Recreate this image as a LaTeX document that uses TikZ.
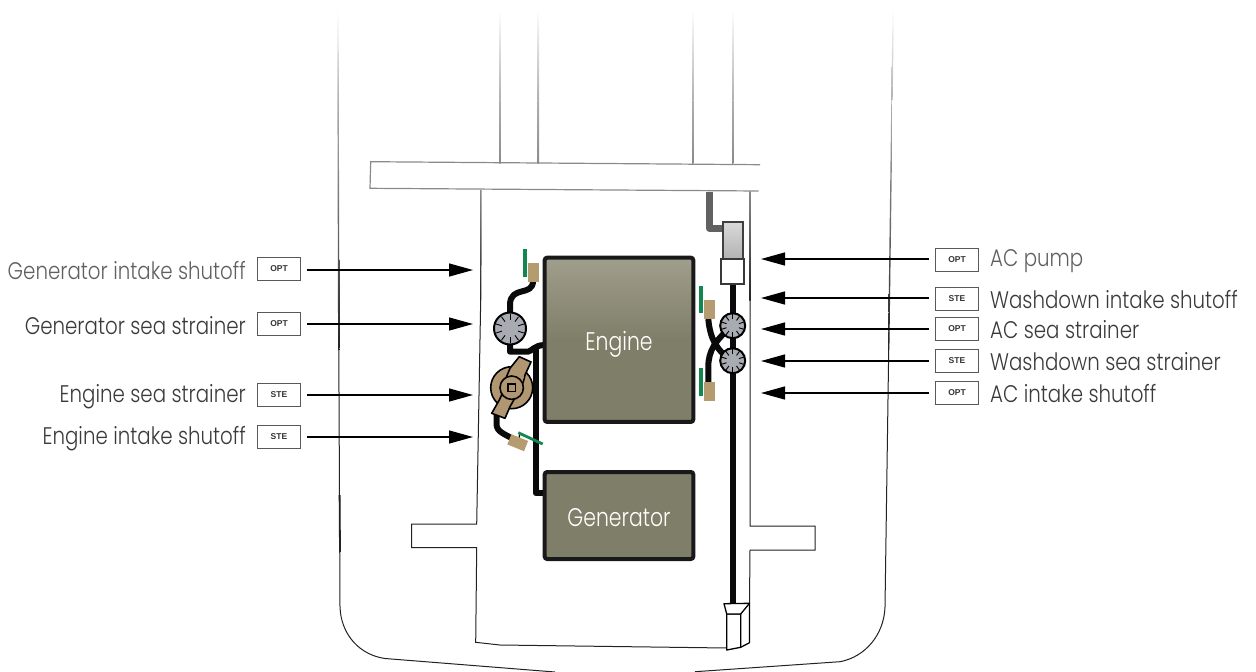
\documentclass[tikz,border=0pt]{standalone}
\usepackage{fontspec}
\setmainfont{Poppins}[UprightFont=* Light,FakeStretch=0.825]
\newfontfamily\bigfont{Poppins}[UprightFont=* Light,FakeStretch=0.80]
\newfontfamily\tagfont{Liberation Sans}
\usetikzlibrary{arrows.meta,calc}
\definecolor{hull}{HTML}{222222}
\definecolor{deck}{HTML}{8A8A8A}
\definecolor{fadeg}{HTML}{B0B0B0}
\definecolor{pipe}{HTML}{0A0A0A}
\definecolor{valve}{HTML}{B59B70}
\definecolor{handle}{HTML}{12874F}
\definecolor{strain}{HTML}{A9ABB3}
\definecolor{pump}{HTML}{B19672}
\definecolor{engb}{HTML}{7F7E68}
\definecolor{engt}{HTML}{A09E8C}
\definecolor{labelc}{HTML}{3A3A3A}
\definecolor{labell}{HTML}{606060}
\tikzset{
 hullline/.style={draw=hull,line width=1pt},
 deckline/.style={draw=deck,line width=1.2pt},
 pipeline/.style={draw=pipe,line width=6pt,line join=round},
 tagbox/.style={draw=black!65,line width=.9pt,fill=white,minimum width=43pt,minimum height=23pt,inner sep=0pt,font=\tagfont\fontsize{8.5}{8.5}\selectfont\bfseries,text=black!80},
 lab/.style={font=\fontsize{24}{24}\selectfont,text=labelc,inner sep=0pt},
 arrowl/.style={draw=black,line width=1.3pt,-{Triangle[length=24pt,width=13pt]}},
 engbox/.style={draw=black!90,line width=4pt,rounded corners=2.5pt},
 enginetext/.style={font=\bigfont\fontsize{25.5}{25.5}\selectfont,text=white,inner sep=0pt,text height=21pt,text depth=0pt},
 valvebox/.style={fill=valve,inner sep=0pt,minimum width=11pt,minimum height=19pt},
 handlebar/.style={draw=handle,line width=3.8pt},
 strainer/.style={circle,draw=black,line width=2pt,fill=strain,minimum size=25pt,inner sep=0pt},
 pumpline/.style={draw=black,line width=1.6pt,fill=pump,line join=round}
}
\newcommand{\ticks}[3]{\foreach \a in {90,126,...,414}{\draw[black,line width=.9pt] ($(#1)+(\a:#2)$) -- ($(#1)+(\a:#3)$);}}
% a thin line that fades from one colour to another, top to bottom
\newcommand{\fadeline}[6]{\shade[top color=#5,bottom color=#6] (#1-.7,#2) -- (#1+.7,#2) -- (#3+.7,#4) -- (#3-.7,#4) -- cycle;}
\begin{document}
\begin{tikzpicture}[x=1pt,y=-1pt]
\useasboundingbox (0,0) rectangle (1256,672);
% hull
\fadeline{338}{10}{338.1}{100}{white}{fadeg}
\fadeline{338.1}{100}{338.8}{350}{fadeg}{hull}
\draw[hullline] (338.8,350) -- (340,607) .. controls (341,635) and (360,655) .. (385,658.5) -- (555,672);
\draw[line width=1.8pt,hull] (339.6,495) -- (340,552);
\fadeline{893.2}{10}{892}{100}{white}{fadeg}
\fadeline{892}{100}{888.7}{350}{fadeg}{hull}
\draw[hullline] (888.7,350) -- (885,607) .. controls (884,635) and (865,657) .. (840,661.7) -- (695,671.7);
\fadeline{481}{190}{480.7}{300}{deck}{hull}
\draw[hullline] (480.7,300) -- (476.7,524) -- (411.7,524) -- (411.7,547.7) -- (476.7,547.7) -- (475.7,642.3) -- (500,645) -- (726.7,648);
\fadeline{750}{191}{750}{300}{deck}{hull}
\draw[hullline] (750,300) -- (750,526) -- (815,526) -- (815,550) -- (750,550) -- (749.5,603);
% deck
\draw[deckline] (760,164.7) -- (370.7,161.7) -- (370,188.3) -- (758.5,191);
\foreach \xx in {500,538.3,692.7,732.7}{
 \fadeline{\xx}{10}{\xx}{100}{white}{fadeg}
 \fadeline{\xx}{100}{\xx}{163}{fadeg}{deck}
}
% exhaust
\draw[draw=black!62,line width=6.4pt,line join=round] (709.3,192) -- (709.3,228.3) -- (723,228.3);
% pipes right
\draw[pipeline,line width=6.6pt] (733,284) -- (733,604);
\draw[pipeline] (708.3,319) .. controls (710,338) and (716,350) .. (732,361);
\draw[pipeline] (708.3,383) -- (708.3,367) .. controls (708.3,350) and (716,340) .. (732,326);
% pipes left
\draw[pipeline] (510,345) -- (510,351.7) -- (528,351.7) .. controls (532,351) and (534,345.5) .. (544,345);
\draw[pipeline] (510,312) -- (510,305) .. controls (510,285) and (533,297) .. (533,281);
\draw[pipeline] (536,346) -- (536,493.3) -- (544,493.3);
\draw[pipeline] (496.5,414) -- (496.5,424) .. controls (496.5,432) and (505,434) .. (513,439);
\draw[draw=black,line width=1.3pt] (520,433) -- (519,438);
% engine
\shade[top color=engt,bottom color=engb] (545,258) rectangle (693,340);
\fill[engb] (545,340) rectangle (693,422);
\node[engbox,minimum width=148.6pt,minimum height=164.3pt,enginetext] (engine) at (619,339.8) {Engine};
\node[engbox,fill=engb,minimum width=148.6pt,minimum height=87pt,enginetext] (gen) at (619,515.5) {Generator};
% pump
\draw[pumpline] (511.7,387.7) circle (21pt);
\draw[pumpline] (510,368.3) -- (519.3,356.7) -- (531,362) -- (525,375) -- (523,383) -- (506,378) -- cycle;
\draw[pumpline] (499.3,400) -- (491.7,413.3) -- (505,418.3) -- (510,406.7) -- (516,396) -- (503,392) -- cycle;
\fill[pump] (510,372) -- (524,377) -- (516,396) -- (501,392) -- cycle;
\draw[pumpline] (511.7,387.7) circle (11.7pt);
\draw[draw=black,line width=1.8pt,fill=pump] (508,384) rectangle (515.4,391.4);
% strainers
\node[strainer,minimum size=32pt] (s1) at (510,328.5) {}; \ticks{s1}{8.5}{14.5}
\node[strainer] (s2) at (732.7,325.7) {}; \ticks{s2}{6.5}{11.5}
\node[strainer] (s3) at (732.7,360.7) {}; \ticks{s3}{6.5}{11.5}
% valves
\node[valvebox] (v1) at (533.5,272.5) {};
\draw[handlebar] (525,249) -- (525,276.7);
\node[valvebox] (v2) at (709.5,309.5) {};
\draw[handlebar] (701,286) -- (701,313.3);
\node[valvebox] (v3) at (709.5,391.5) {};
\draw[handlebar] (701,368) -- (701,395.7);
\node[valvebox,rotate=68,minimum width=11pt,minimum height=18pt] (v4) at (517.7,442.7) {};
\draw[handlebar,line width=2.8pt] (518.3,432.7) -- (542.7,444);
% AC pump
\shade[top color=black!15,bottom color=black!30] (722.7,222.3) rectangle (743.3,259);
\draw[draw=black!75,line width=2.2pt] (722.7,222.3) rectangle (743.3,259);
\draw[draw=black!78,line width=2.2pt,fill=white] (720.7,259) rectangle (744.3,284);
% intake
\draw[draw=black,line width=1.3pt,fill=white,line join=round] (726.7,614) -- (740.7,614) -- (740.7,647.3) -- (726.7,650) -- cycle;
\draw[draw=black,line width=1.3pt,fill=white,line join=round] (724,603.7) -- (749.5,603.3) -- (740.7,614) -- (726.7,614) -- cycle;
\draw[draw=black,line width=1.3pt,line join=round] (740.7,647.3) -- (749.5,642.7) -- (749.5,603.3);
% left labels
\foreach \n/\y/\ya/\yl/\t/\k/\c in {a/269/270/270.5/Generator intake shutoff/OPT/labell,b/324/324/325.5/Generator sea strainer/OPT/labelc,c/395/395/396.5/Engine sea strainer/STE/labelc,d/437/437/438.5/Engine intake shutoff/STE/labelc}{
 \node[tagbox] (t\n) at (279,\y) {\k};
 \node[lab,anchor=east,text=\c] (l\n) at (246,\yl) {\t};
 \coordinate (e\n) at (473,\ya);
 \coordinate (f\n) at (307,\ya);
 \draw[arrowl] (f\n) -- (e\n);
}
% right labels
\foreach \n/\y/\ya/\yl/\t/\k/\c in {f/260/259/261/AC pump/OPT/labell,g/299/298/300/Washdown intake shutoff/STE/labelc,h/329/329/330/AC sea strainer/OPT/labelc,i/360.5/361/362/Washdown sea strainer/STE/labelc,j/393/393/394/AC intake shutoff/OPT/labelc}{
 \node[tagbox] (t\n) at (957,\y) {\k};
 \node[lab,anchor=west,text=\c] (l\n) at (990,\yl) {\t};
 \coordinate (e\n) at (761,\ya);
 \coordinate (f\n) at (929,\ya);
 \draw[arrowl] (f\n) -- (e\n);
}
\end{tikzpicture}
\end{document}
